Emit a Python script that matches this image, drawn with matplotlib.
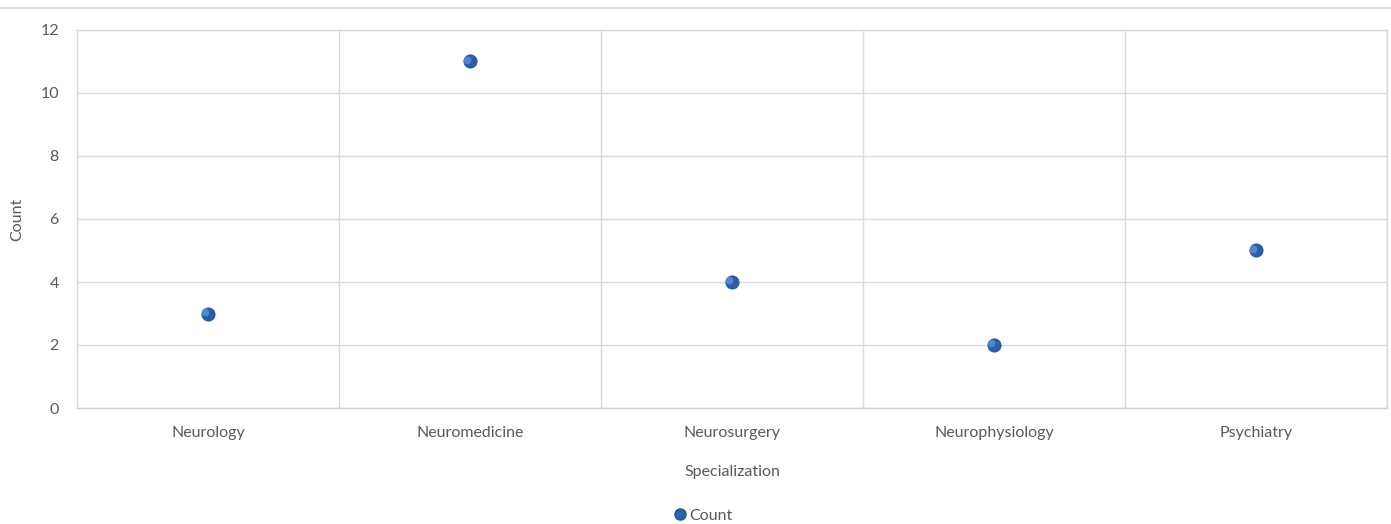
import matplotlib
matplotlib.use("Agg")
import matplotlib.pyplot as plt
from matplotlib.lines import Line2D
import numpy as np

categories = ["Neurology", "Neuromedicine", "Neurosurgery", "Neurophysiology", "Psychiatry"]
counts = [3, 11, 4, 2, 5]
y_ticks = [0, 2, 4, 6, 8, 10, 12]

plt.rcParams['font.family'] = ['Lato', 'DejaVu Sans']
text_color = '#595959'
grid_color = '#d9d9d9'
fs = 11.5

fig = plt.figure(figsize=(13.91, 5.24), dpi=100)
ax = fig.add_axes([77/1391, 1-408/524, (1387-77)/1391, (408-30)/524])

x = np.arange(len(categories))
# sphere-like markers: body and highlight
ax.plot(x, counts, linestyle='none', marker='o', markersize=9.5,
        markerfacecolor='#2a5ea8', markeredgecolor='#24518f', markeredgewidth=0.6, zorder=3)
ax.plot(x - 0.01, np.array(counts) + 0.06, linestyle='none', marker='o', markersize=5.5,
        markerfacecolor='#5a8fd8', markeredgecolor='none', alpha=0.85, zorder=4)

ax.set_xlim(-0.5, len(categories) - 0.5)
ax.set_ylim(0, 12)
ax.set_yticks(y_ticks)
ax.set_xticks(x)
ax.set_xticklabels(categories)
ax.set_xticks(np.arange(-0.5, len(categories)), minor=True)
ax.tick_params(axis='both', which='both', length=0, colors=text_color, labelsize=fs)
ax.tick_params(axis='x', pad=13)
ax.tick_params(axis='y', pad=13)
ax.grid(axis='y', which='major', color=grid_color, linewidth=1)
ax.grid(axis='x', which='minor', color=grid_color, linewidth=1)
ax.set_axisbelow(True)
for s in ax.spines.values():
    s.set_color(grid_color)
    s.set_linewidth(1)
ax.spines['bottom'].set_color('#d0d0d0')

ax.set_xlabel("Specialization", color=text_color, fontsize=fs, labelpad=18)
ax.set_ylabel("Count", color=text_color, fontsize=fs)
ax.yaxis.set_label_coords((24 - 77) / 1310, 0.5)

# top border line of chart
fig.add_artist(Line2D([0, 1], [1-8/524, 1-8/524], transform=fig.transFigure,
                      color=grid_color, linewidth=1.2))

handle = Line2D([], [], linestyle='none', marker='o', markersize=8,
                markerfacecolor='#2e63ad', markeredgecolor='#27508a')
fig.legend([handle], ["Count"], loc='center', bbox_to_anchor=(702/1391, 1-516/524),
           frameon=False, fontsize=fs, labelcolor=text_color, handletextpad=0.05,
           handlelength=1.0)

fig.savefig("out.png", dpi=100)
